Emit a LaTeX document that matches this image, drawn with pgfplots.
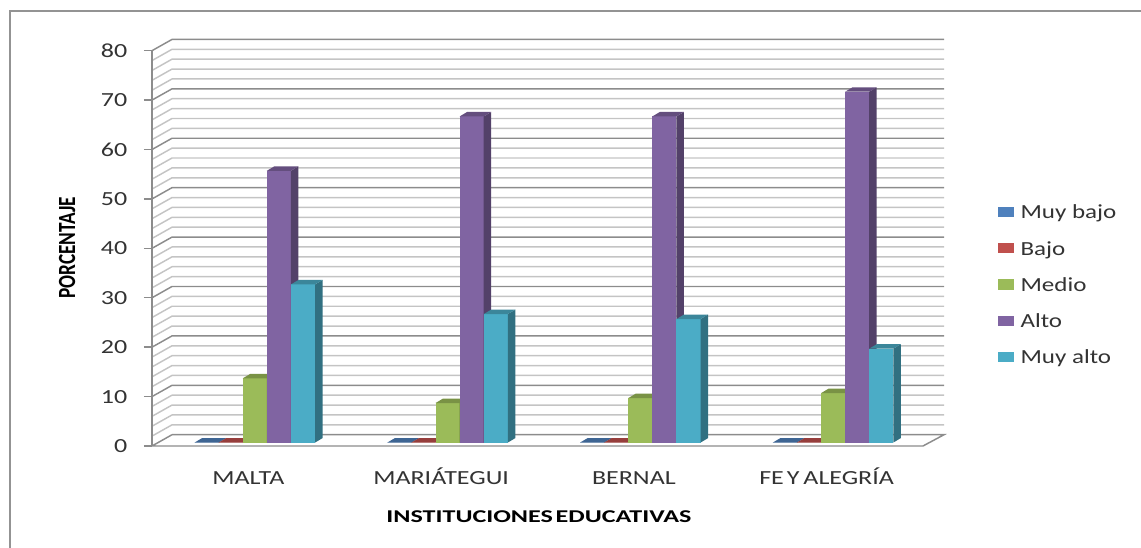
\documentclass[border=0pt]{standalone}
\usepackage{fontspec}
\setmainfont[FakeStretch=1.3]{Carlito}
\newfontfamily\legfont[FakeStretch=1.25]{Carlito}
\usepackage{pgfplots}
\usepackage{pgfplotstable}
\pgfplotsset{compat=1.18}

\definecolor{cblue}{HTML}{4F81BD}
\definecolor{cred}{HTML}{C0504D}
\definecolor{cgreen}{HTML}{9BBB59}
\definecolor{cpurple}{HTML}{8064A2}
\definecolor{cteal}{HTML}{4BACC6}
\definecolor{gmajor}{HTML}{8C8C8C}
\definecolor{gminor}{HTML}{C4C4C4}

% percentages per school
\pgfplotstableread{
muybajo bajo medio alto muyalto
0 0 13 55 32
0 0 8 66 26
0 0 9 66 25
0 0 10 71 19
}\datos

\newcommand{\onebar}[4]{% colour, group, position in group, column
  \pgfplotstablegetelem{#2}{#4}\of\datos
  \pgfmathsetmacro\va{\pgfplotsretval+0.7}
  \pgfmathsetmacro\vb{\va+0.9}
  \pgfmathsetmacro\ba{0.7}
  \pgfmathsetmacro\bb{1.6}
  \pgfmathsetmacro\xa{#2+0.19+0.0311+#3*0.125}
  \pgfmathsetmacro\xb{\xa+0.125}
  \pgfmathsetmacro\xc{\xa+0.0389}
  \pgfmathsetmacro\xd{\xb+0.0389}
  \edef\tmp{%
    \noexpand\addplot[forget plot,draw=none,fill=#1] coordinates {(\xa,\ba)(\xb,\ba)(\xb,\va)(\xa,\va)} --cycle;
    \noexpand\addplot[forget plot,draw=none,fill=#1!65!black] coordinates {(\xb,\ba)(\xd,\bb)(\xd,\vb)(\xb,\va)} --cycle;
    \noexpand\addplot[forget plot,draw=none,fill=#1!78!black] coordinates {(\xa,\va)(\xb,\va)(\xd,\vb)(\xc,\vb)} --cycle;
  }\tmp
}

\newcommand{\wallline}[2]{% level, colour
  \pgfmathsetmacro\vb{#1+2.28}
  \edef\tmp{\noexpand\addplot[forget plot,#2,line width=1.1pt] coordinates {(0,#1)(0.1038,\vb)(4.109,\vb)};}\tmp
}

\begin{document}
\begin{tikzpicture}
\path[use as bounding box] (0,0) rectangle (855.75pt,411pt);
\draw[gray!85,line width=1.5pt] (7.5pt,0pt) -- (7.5pt,402.75pt) -- (855.75pt,402.75pt);
\begin{axis}[
    at={(114pt,76.5pt)},
    anchor=south west,
    scale only axis,
    width=594pt,
    height=305pt,
    xmin=0, xmax=4.109,
    ymin=0, ymax=82.3,
    clip=false,
    axis line style={draw=none},
    xtick={0.5,1.5,2.5,3.5},
    xticklabels={MALTA,MARIÁTEGUI,BERNAL,FE\kern2.2pt Y\kern3pt ALEGRÍA},
    x tick style={draw=none},
    ytick={0,10,...,80},
    y tick style={gmajor,line width=1.1pt},
    tick align=outside,
    tick pos=left,
    major tick length=6pt,
    /pgf/number format/assume math mode=true,
    tick label style={font=\fontsize{15}{18}\selectfont,text=black!80},
    xticklabel style={yshift=-8.6pt,text height=11pt,text depth=3pt},
    yticklabel style={xshift=-9pt},
    every axis x label/.style={at={(axis description cs:0.4886,-0.174)},anchor=center},
    every axis y label/.style={at={(axis description cs:-0.1073,0.487)},anchor=center,rotate=90},
    xlabel={\fontspec{Carlito}[FakeStretch=1.45]\fontsize{13.5}{17}\selectfont\bfseries INSTITUCIONES\kern2pt EDUCATIVAS},
    ylabel={\fontspec{Carlito}[FakeStretch=0.78]\fontsize{18.5}{20}\selectfont\bfseries PORCENTAJE},
    legend style={
      at={(axis description cs:1.0681,0.5925)},anchor=north west,
      draw=none,fill=none,inner sep=0pt,outer sep=0pt,
      row sep=16.8pt,
      font=\legfont\fontsize{15}{15}\selectfont,text=black!80,
      nodes={inner sep=0pt,outer sep=0pt,text depth=0pt},
    },
    legend cell align=left,
    legend image code/.code={\fill[white,draw=none,opacity=0] (0pt,0pt) rectangle (17pt,0.1pt);\fill[#1,draw=none] (0pt,-3.8pt) rectangle (12pt,3.8pt);},
]
% back wall and side wall rules
\pgfplotsforeachungrouped \n in {2,4,6,8,12,14,16,18,22,24,26,28,32,34,36,38,42,44,46,48,52,54,56,58,62,64,66,68,72,74,76,78}{\wallline{\n}{gminor}}
\pgfplotsforeachungrouped \n in {10,20,...,80}{\wallline{\n}{gmajor}}
\addplot[forget plot,gmajor,line width=1.1pt] coordinates {(0.1038,2.28)(4.109,2.28)(4,0)(0,0)(0.1038,2.28)};
\addplot[forget plot,gmajor,line width=1.1pt] coordinates {(0,0)(0,80)};

\pgfplotsforeachungrouped \g in {0,1,2,3}{%
  \onebar{cblue}{\g}{0}{muybajo}
  \onebar{cred}{\g}{1}{bajo}
  \onebar{cgreen}{\g}{2}{medio}
  \onebar{cpurple}{\g}{3}{alto}
  \onebar{cteal}{\g}{4}{muyalto}
}

\addlegendimage{fill=cblue}\addlegendentry{Muy bajo}
\addlegendimage{fill=cred}\addlegendentry{Bajo}
\addlegendimage{fill=cgreen}\addlegendentry{Medio}
\addlegendimage{fill=cpurple}\addlegendentry{Alto}
\addlegendimage{fill=cteal}\addlegendentry{Muy alto}
\end{axis}
\end{tikzpicture}
\end{document}
